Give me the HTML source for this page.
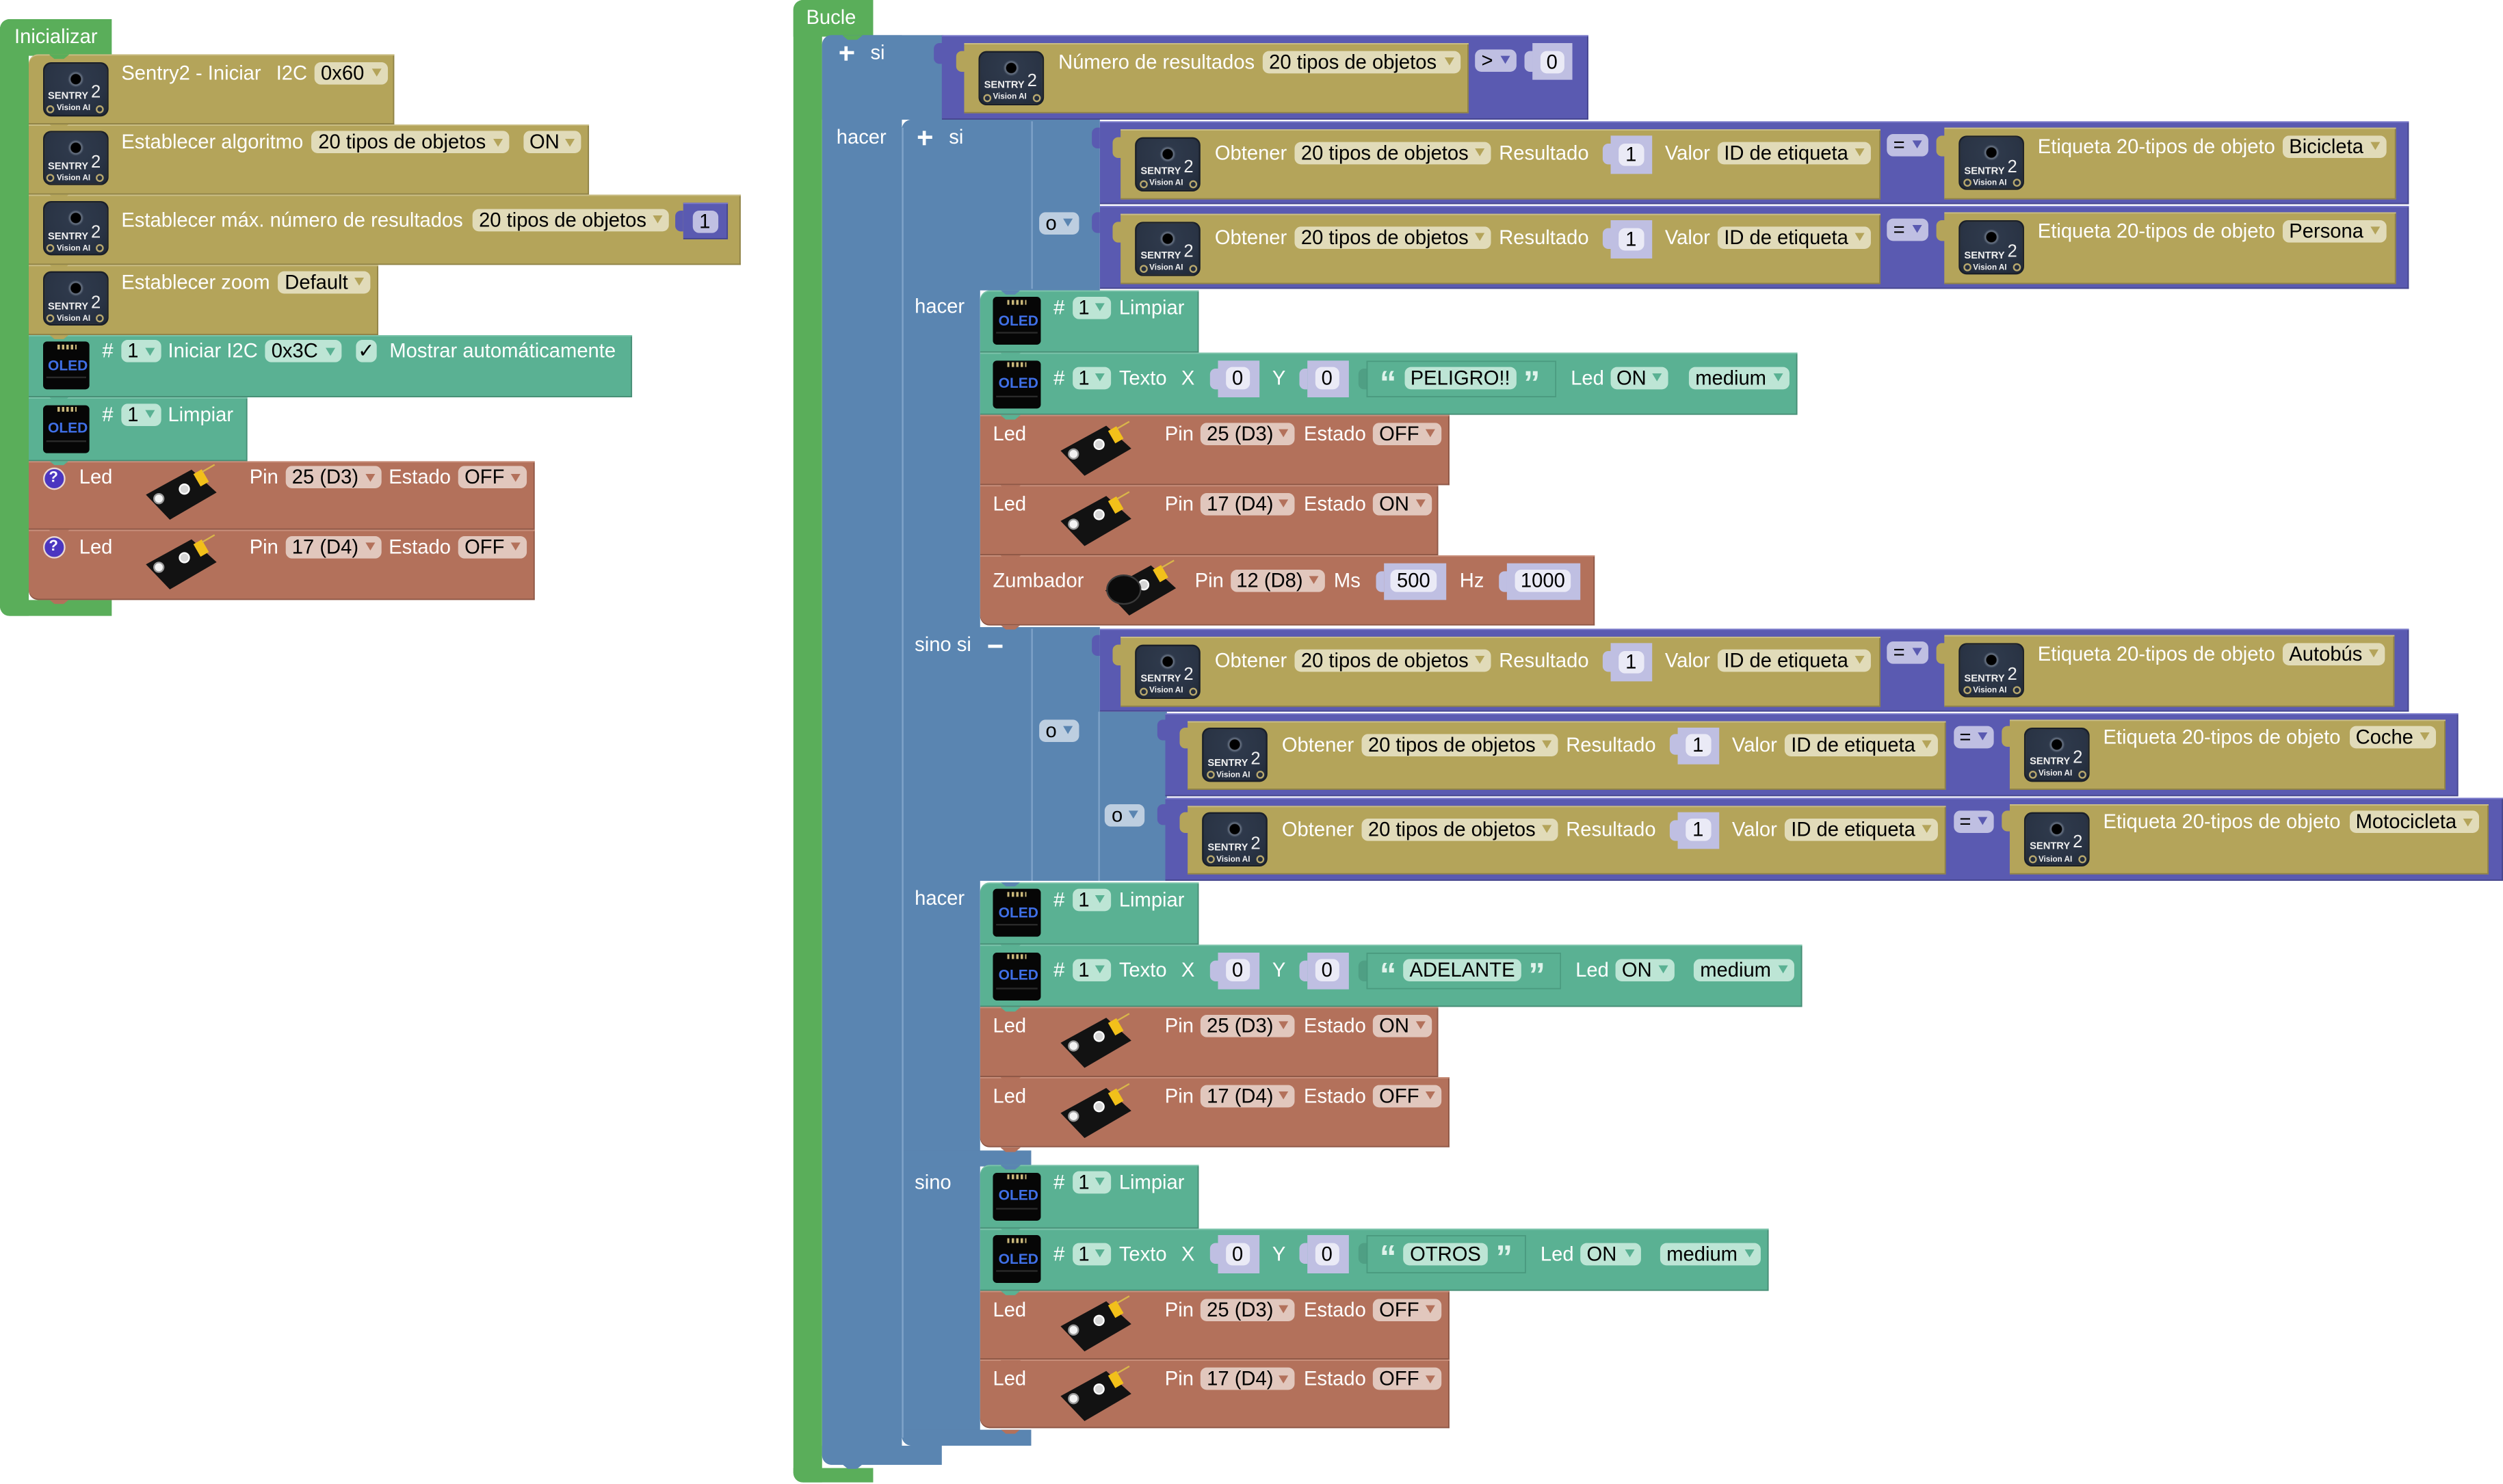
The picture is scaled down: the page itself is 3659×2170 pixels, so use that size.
<!DOCTYPE html>
<html><head><meta charset="utf-8">
<style>
*{box-sizing:border-box;margin:0;padding:0}
html,body{width:3659px;height:2170px;overflow:hidden;background:#fff}
#c{position:absolute;left:0;top:0;width:1568px;height:930px;transform-origin:0 0;transform:scale(2.33355,2.33333);font-family:"Liberation Sans",Arial,sans-serif}
#c div{position:absolute}
.g{background:#5aae5a}
.o{background:#b4a45a;box-shadow:inset 0 .8px 0 #cabe86,inset 0 -.8px 0 #8f8247,inset -.8px 0 0 #8f8247}
.t{background:#5ab193;box-shadow:inset 0 .8px 0 #7cc4ab,inset 0 -.8px 0 #478d75,inset -.8px 0 0 #478d75}
.r{background:#b3715b;box-shadow:inset 0 .8px 0 #c9907c,inset 0 -.8px 0 #8d5746,inset -.8px 0 0 #8d5746}
.b{background:#5a85b1}
.p{background:#5a5ab1;box-shadow:inset 0 .8px 0 #7b7bcb,inset 0 -.8px 0 #46468e,inset -.8px 0 0 #46468e}
.L{color:#fff;font-size:12.5px;line-height:14px;white-space:nowrap}
.F{height:14px;border-radius:4px;font-size:12.5px;line-height:14px;color:#000;padding-left:4px;white-space:nowrap}
.F i{position:absolute;right:4px;top:4.4px;width:0;height:0;border-left:3.3px solid transparent;border-right:3.3px solid transparent;border-top:5.6px solid #000}
.C{text-align:center;padding-left:0}
.fo{background:#e1dbb9}.fo i{border-top-color:#b4a45a}
.ft{background:#bde5d5}.ft i{border-top-color:#5ab193}
.fr{background:#e1c7bd}.fr i{border-top-color:#b3715b}
.fb{background:#bdcee0}.fb i{border-top-color:#5a85b1}
.fp{background:#bfbfe2}.fp i{border-top-color:#5a5ab1}
.n{background:#bfbfe2;height:23.3px}
.ni{background:#eaeaf6}
.tab{width:5.5px;height:13px;border-radius:3.5px 0 0 3.5px;box-shadow:none}
.lt{background:#bfbfe2}
.tb{background:#5ab193;height:23.3px;box-shadow:inset 0 0 0 .8px #4a9a7f}
.tt{background:#4f9f84}
.qu{color:#dff3eb;font:bold 21px/14px "Liberation Sans",sans-serif}
.v{width:13px;height:3px;clip-path:polygon(0 0,100% 0,72% 100%,28% 100%)}
.q{width:14px;height:14px;border-radius:50%;background:#4b36c0;border:1.2px solid #e9d6d0;color:#fff;font:bold 9.5px/11.6px "Liberation Sans",sans-serif;text-align:center}
.sen{width:41px;height:34px;border-radius:5px;border:.8px solid #1a1f29;background:radial-gradient(circle at 50% 30%,#000 0,#000 3px,#6b7687 3.6px,#2e394b 5px,#2a3445 60%,#1f2836 100%);overflow:hidden}
.sen b{position:absolute;color:#f0f0f0;font-family:"Liberation Sans Narrow","Liberation Sans",sans-serif;line-height:1;white-space:nowrap}
.s1{left:2.5px;top:18.5px;font-size:6.3px}
.s2{left:29.5px;top:13.5px;font-size:11px;font-weight:normal}
.s3{left:8px;top:26.8px;font-size:5px}
.sen:before,.sen:after{content:"";position:absolute;top:26px;width:5px;height:5px;border-radius:50%;border:1px solid #b8a86e;box-sizing:border-box}
.sen:before{left:1.5px}.sen:after{right:1.5px}
.ol{width:29.5px;height:30px;background:#060606;border-radius:2.5px}
.ol b{position:absolute;left:3.5px;top:9.5px;font:bold 9px/10px "Liberation Sans Narrow","Liberation Sans",sans-serif;color:#3f6fe6}
.ol:before{content:"";position:absolute;left:9px;top:1.5px;width:12px;height:3px;background:repeating-linear-gradient(90deg,#c9b77a 0 1.4px,transparent 1.4px 2.8px)}
.ol:after{content:"";position:absolute;left:2px;top:22px;width:25.5px;height:1.2px;background:#2a2a2a}
.lm{width:46px;height:35px}
.pc{left:0;top:0;width:46px;height:35px;background:#121212;clip-path:polygon(1.4px 18px,30px 2.3px,45.7px 16.6px,16.4px 33.7px)}
.w1{left:5.5px;top:16.5px;width:7px;height:7px;border-radius:50%;background:#f2f2f2;border:1px solid #9a9a9a}
.w2{left:22px;top:10.5px;width:7px;height:7px;border-radius:50%;background:#d6d6d6;border:1px solid #fff}
.yh{left:33px;top:3px;width:6px;height:9px;background:#f2c01a;transform:rotate(-30deg)}
.pn{left:36px;top:1px;width:9px;height:.8px;background:#d9b64a;transform:rotate(-30deg)}
.cy{left:2px;top:8px;width:22px;height:19px;border-radius:50%;background:#0b0b0b;border:1px solid #3a3a3a}
.ln{background:#7fa3c9;width:.8px}
</style></head><body><div id="c">

<!-- ================= INICIALIZAR ================= -->
<div class="g" style="left:0;top:12px;width:70px;height:22.5px;border-radius:6px 0 0 0"></div>
<div class="g" style="left:0;top:12px;width:18px;height:373.5px;border-radius:6px 0 0 6px"></div>
<div class="g" style="left:0;top:376px;width:70px;height:9.5px;border-radius:0 0 0 6px"></div>
<div class="L" style="left:9px;top:15.5px">Inicializar</div>

<div class="o" style="left:18px;top:34px;width:229px;height:43.5px;border-radius:6px 0 0 0"></div>
<div class="sen" style="left:26.5px;top:38.5px"><b class="s1">SENTRY</b><b class="s2">2</b><b class="s3">Vision AI</b></div>
<div class="L" style="left:76px;top:38.5px">Sentry2 - Iniciar</div>
<div class="L" style="left:173px;top:38.5px">I2C</div>
<div class="F fo" style="left:197px;top:38.7px;width:46px">0x60<i></i></div>

<div class="o" style="left:18px;top:77.5px;width:351px;height:44px"></div>
<div class="sen" style="left:26.5px;top:82.3px"><b class="s1">SENTRY</b><b class="s2">2</b><b class="s3">Vision AI</b></div>
<div class="L" style="left:76px;top:82.2px">Establecer algoritmo</div>
<div class="F fo" style="left:195.4px;top:82.2px;width:123.3px">20 tipos de objetos<i></i></div>
<div class="F fo" style="left:327.7px;top:82.2px;width:36.6px">ON<i></i></div>

<div class="o" style="left:18px;top:121.5px;width:446px;height:44px"></div>
<div class="sen" style="left:26.5px;top:126.3px"><b class="s1">SENTRY</b><b class="s2">2</b><b class="s3">Vision AI</b></div>
<div class="L" style="left:76px;top:130.5px">Establecer máx. número de resultados</div>
<div class="F fo" style="left:296px;top:130.7px;width:123.4px">20 tipos de objetos<i></i></div>
<div class="p tab" style="left:422.5px;top:131.5px"></div>
<div class="p" style="left:427.5px;top:127px;width:28px;height:23.3px"></div>
<div class="F C" style="left:433.5px;top:131.6px;width:16px;background:#bfbfe2">1</div>

<div class="o" style="left:18px;top:165.5px;width:219px;height:44px"></div>
<div class="sen" style="left:26.5px;top:170.3px"><b class="s1">SENTRY</b><b class="s2">2</b><b class="s3">Vision AI</b></div>
<div class="L" style="left:76px;top:169.7px">Establecer zoom</div>
<div class="F fo" style="left:174.4px;top:169.7px;width:57.6px">Default<i></i></div>

<div class="t" style="left:18px;top:209.5px;width:378px;height:39px"></div>
<div class="ol" style="left:26.5px;top:214px"><b>OLED</b></div>
<div class="L" style="left:64px;top:213.4px">#</div>
<div class="F ft" style="left:75.8px;top:213.4px;width:24.9px">1<i></i></div>
<div class="L" style="left:105.2px;top:213.4px">Iniciar I2C</div>
<div class="F ft" style="left:166px;top:213.4px;width:47.5px">0x3C<i></i></div>
<div class="F ft C" style="left:222.5px;top:213.4px;width:13.8px">✓</div>
<div class="L" style="left:244px;top:213.4px">Mostrar automáticamente</div>

<div class="t" style="left:18px;top:248.5px;width:137px;height:40px"></div>
<div class="ol" style="left:26.5px;top:253.5px"><b>OLED</b></div>
<div class="L" style="left:64px;top:253px">#</div>
<div class="F ft" style="left:75.8px;top:253px;width:24.9px">1<i></i></div>
<div class="L" style="left:105.2px;top:253px">Limpiar</div>

<div class="r" style="left:18px;top:288.5px;width:317px;height:43.5px"></div>
<div class="q" style="left:26.5px;top:292.6px">?</div>
<div class="L" style="left:49.6px;top:292.3px">Led</div>
<div class="lm" style="left:90px;top:292px"><div class="pc"></div><div class="w1"></div><div class="w2"></div><div class="yh"></div><div class="pn"></div></div>
<div class="L" style="left:156.3px;top:292.3px">Pin</div>
<div class="F fr" style="left:178.9px;top:292.3px;width:60.1px">25 (D3)<i></i></div>
<div class="L" style="left:243.5px;top:292.3px">Estado</div>
<div class="F fr" style="left:287px;top:292.3px;width:43px">OFF<i></i></div>

<div class="r" style="left:18px;top:332px;width:317px;height:43.5px;border-radius:0 0 0 6px"></div>
<div class="q" style="left:26.5px;top:336.3px">?</div>
<div class="L" style="left:49.6px;top:336px">Led</div>
<div class="lm" style="left:90px;top:335.7px"><div class="pc"></div><div class="w1"></div><div class="w2"></div><div class="yh"></div><div class="pn"></div></div>
<div class="L" style="left:156.3px;top:336px">Pin</div>
<div class="F fr" style="left:178.9px;top:336px;width:60.1px">17 (D4)<i></i></div>
<div class="L" style="left:243.5px;top:336px">Estado</div>
<div class="F fr" style="left:287px;top:336px;width:43px">OFF<i></i></div>

<div class="v" style="left:30.5px;top:34px;background:#5aae5a"></div>
<div class="v" style="left:30.5px;top:77.5px;background:#b4a45a"></div>
<div class="v" style="left:30.5px;top:121.5px;background:#b4a45a"></div>
<div class="v" style="left:30.5px;top:165.5px;background:#b4a45a"></div>
<div class="v" style="left:30.5px;top:209.5px;background:#b4a45a"></div>
<div class="v" style="left:30.5px;top:248.5px;background:#5ab193"></div>
<div class="v" style="left:30.5px;top:288.5px;background:#5ab193"></div>
<div class="v" style="left:30.5px;top:332px;background:#b3715b"></div>
<div class="v" style="left:30.5px;top:375.5px;background:#b3715b"></div>

<!-- ================= BUCLE ================= -->
<div class="g" style="left:497px;top:0;width:50px;height:22.5px;border-radius:6px 0 0 0"></div>
<div class="g" style="left:497px;top:0;width:18px;height:929px;border-radius:6px 0 0 6px"></div>
<div class="g" style="left:497px;top:919.7px;width:50px;height:9.3px;border-radius:0 0 0 6px"></div>
<div class="L" style="left:505px;top:4px">Bucle</div>

<!-- outer if -->
<div class="b" style="left:515px;top:22px;width:76px;height:53px;border-radius:6px 0 0 0"></div>
<div class="b" style="left:515px;top:22px;width:50px;height:895.5px;border-radius:6px 0 0 6px"></div>
<div class="b" style="left:515px;top:906px;width:75px;height:11.5px;border-radius:0 0 0 6px"></div>
<div style="left:525.5px;top:32.2px;width:9px;height:2.2px;background:#fff"></div>
<div style="left:528.9px;top:28.8px;width:2.2px;height:9px;background:#fff"></div>
<div class="L" style="left:545.3px;top:26.3px">si</div>
<div class="L" style="left:524px;top:79px">hacer</div>

<!-- outer compare -->
<div class="p tab" style="left:585px;top:27px"></div>
<div class="p" style="left:590px;top:22px;width:404.5px;height:52.6px"></div>
<div class="o tab" style="left:599px;top:31.5px"></div>
<div class="o" style="left:604px;top:27px;width:316px;height:44px"></div>
<div class="sen" style="left:613px;top:31.5px"><b class="s1">SENTRY</b><b class="s2">2</b><b class="s3">Vision AI</b></div>
<div class="L" style="left:663px;top:31.6px">Número de resultados</div>
<div class="F fo" style="left:791px;top:31.6px;width:123.5px">20 tipos de objetos<i></i></div>
<div class="F fp" style="left:924px;top:31px;width:26px">&gt;<i></i></div>
<div class="lt tab" style="left:955px;top:31.5px"></div>
<div class="n" style="left:960px;top:27px;width:25px"></div>
<div class="F C ni" style="left:964.5px;top:31.6px;width:15.5px">0</div>

<!-- inner if -->
<div class="b" style="left:565px;top:75px;width:124px;height:107px;border-radius:6px 0 0 0"></div>
<div class="b" style="left:565px;top:75px;width:49px;height:831px;border-radius:6px 0 0 6px"></div>
<div class="b" style="left:565px;top:393.4px;width:124px;height:159px"></div>
<div class="b" style="left:688px;top:446px;width:42.5px;height:106.4px"></div>
<div class="b" style="left:565px;top:720.5px;width:81px;height:10px"></div>
<div class="b" style="left:565px;top:895.5px;width:81px;height:10.5px;border-radius:0 0 0 6px"></div>
<div class="ln" style="left:565px;top:80px;height:821px"></div>
<div class="ln" style="left:646px;top:76px;height:105px"></div>
<div class="ln" style="left:646px;top:394px;height:158px"></div>
<div class="ln" style="left:688px;top:446px;height:106px"></div>
<div style="left:574.5px;top:84.9px;width:9px;height:2.2px;background:#fff"></div>
<div style="left:577.9px;top:81.5px;width:2.2px;height:9px;background:#fff"></div>
<div class="L" style="left:594.5px;top:79px">si</div>
<div class="L" style="left:573px;top:185.2px">hacer</div>
<div class="L" style="left:573px;top:397.3px">sino si</div>
<div style="left:619.4px;top:403.6px;width:8.6px;height:2px;background:#fff"></div>
<div class="L" style="left:573px;top:556px">hacer</div>
<div class="L" style="left:573px;top:734px">sino</div>

<div class="F fb" style="left:651px;top:133px;width:24.5px">o<i></i></div>
<div class="F fb" style="left:651px;top:451px;width:24.5px">o<i></i></div>
<div class="F fb" style="left:692.4px;top:504px;width:24.6px">o<i></i></div>

<!-- Row A -->
<div class="p tab" style="left:683.5px;top:80px"></div>
<div class="p" style="left:688.5px;top:76px;width:820.5px;height:52px"></div>
<div class="o tab" style="left:697px;top:85.5px"></div>
<div class="o" style="left:702px;top:81px;width:476px;height:43.5px"></div>
<div class="sen" style="left:711px;top:85.5px"><b class="s1">SENTRY</b><b class="s2">2</b><b class="s3">Vision AI</b></div>
<div class="L" style="left:761px;top:89px">Obtener</div>
<div class="F fo" style="left:811px;top:89px;width:123px">20 tipos de objetos<i></i></div>
<div class="L" style="left:939px;top:89px">Resultado</div>
<div class="lt tab" style="left:1004px;top:89.8px"></div>
<div class="n" style="left:1009px;top:85.4px;width:26px"></div>
<div class="F C ni" style="left:1014px;top:89.5px;width:15.5px">1</div>
<div class="L" style="left:1043px;top:89px">Valor</div>
<div class="F fo" style="left:1076px;top:89px;width:96px">ID de etiqueta<i></i></div>
<div class="F fp" style="left:1182px;top:84px;width:26px">=<i></i></div>
<div class="o tab" style="left:1213px;top:84.5px"></div>
<div class="o" style="left:1218px;top:80px;width:283px;height:44.6px"></div>
<div class="sen" style="left:1227px;top:85px"><b class="s1">SENTRY</b><b class="s2">2</b><b class="s3">Vision AI</b></div>
<div class="L" style="left:1276.5px;top:84.5px">Etiqueta 20-tipos de objeto</div>
<div class="F fo" style="left:1430px;top:84.5px;width:64.5px">Bicicleta<i></i></div>

<!-- Row B -->
<div class="p tab" style="left:683.5px;top:133px"></div>
<div class="p" style="left:688.5px;top:129px;width:820.5px;height:52.4px"></div>
<div class="o tab" style="left:697px;top:138.5px"></div>
<div class="o" style="left:702px;top:134px;width:476px;height:43.5px"></div>
<div class="sen" style="left:711px;top:138.5px"><b class="s1">SENTRY</b><b class="s2">2</b><b class="s3">Vision AI</b></div>
<div class="L" style="left:761px;top:142px">Obtener</div>
<div class="F fo" style="left:811px;top:142px;width:123px">20 tipos de objetos<i></i></div>
<div class="L" style="left:939px;top:142px">Resultado</div>
<div class="lt tab" style="left:1004px;top:142.8px"></div>
<div class="n" style="left:1009px;top:138.4px;width:26px"></div>
<div class="F C ni" style="left:1014px;top:142.5px;width:15.5px">1</div>
<div class="L" style="left:1043px;top:142px">Valor</div>
<div class="F fo" style="left:1076px;top:142px;width:96px">ID de etiqueta<i></i></div>
<div class="F fp" style="left:1182px;top:137px;width:26px">=<i></i></div>
<div class="o tab" style="left:1213px;top:137.5px"></div>
<div class="o" style="left:1218px;top:133px;width:283px;height:44.6px"></div>
<div class="sen" style="left:1227px;top:138px"><b class="s1">SENTRY</b><b class="s2">2</b><b class="s3">Vision AI</b></div>
<div class="L" style="left:1276.5px;top:137.5px">Etiqueta 20-tipos de objeto</div>
<div class="F fo" style="left:1430px;top:137.5px;width:64.5px">Persona<i></i></div>

<!-- Row C -->
<div class="p tab" style="left:683.5px;top:398px"></div>
<div class="p" style="left:688.5px;top:394px;width:820.5px;height:52px"></div>
<div class="o tab" style="left:697px;top:403.5px"></div>
<div class="o" style="left:702px;top:399px;width:476px;height:43.5px"></div>
<div class="sen" style="left:711px;top:403.5px"><b class="s1">SENTRY</b><b class="s2">2</b><b class="s3">Vision AI</b></div>
<div class="L" style="left:761px;top:407px">Obtener</div>
<div class="F fo" style="left:811px;top:407px;width:123px">20 tipos de objetos<i></i></div>
<div class="L" style="left:939px;top:407px">Resultado</div>
<div class="lt tab" style="left:1004px;top:407.8px"></div>
<div class="n" style="left:1009px;top:403.4px;width:26px"></div>
<div class="F C ni" style="left:1014px;top:407.5px;width:15.5px">1</div>
<div class="L" style="left:1043px;top:407px">Valor</div>
<div class="F fo" style="left:1076px;top:407px;width:96px">ID de etiqueta<i></i></div>
<div class="F fp" style="left:1182px;top:402px;width:26px">=<i></i></div>
<div class="o tab" style="left:1213px;top:402.5px"></div>
<div class="o" style="left:1218px;top:398px;width:282px;height:44.6px"></div>
<div class="sen" style="left:1227px;top:403px"><b class="s1">SENTRY</b><b class="s2">2</b><b class="s3">Vision AI</b></div>
<div class="L" style="left:1276.5px;top:402.5px">Etiqueta 20-tipos de objeto</div>
<div class="F fo" style="left:1430px;top:402.5px;width:64px">Autobús<i></i></div>

<!-- Row D -->
<div class="p tab" style="left:725px;top:451px"></div>
<div class="p" style="left:730px;top:447px;width:810px;height:52.3px"></div>
<div class="o tab" style="left:739px;top:456px"></div>
<div class="o" style="left:744px;top:451.5px;width:475px;height:43.7px"></div>
<div class="sen" style="left:753px;top:456px"><b class="s1">SENTRY</b><b class="s2">2</b><b class="s3">Vision AI</b></div>
<div class="L" style="left:803px;top:459.5px">Obtener</div>
<div class="F fo" style="left:853px;top:459.5px;width:123px">20 tipos de objetos<i></i></div>
<div class="L" style="left:981px;top:459.5px">Resultado</div>
<div class="lt tab" style="left:1046px;top:460.3px"></div>
<div class="n" style="left:1051px;top:455.9px;width:26px"></div>
<div class="F C ni" style="left:1056px;top:460px;width:15.5px">1</div>
<div class="L" style="left:1085px;top:459.5px">Valor</div>
<div class="F fo" style="left:1118px;top:459.5px;width:96px">ID de etiqueta<i></i></div>
<div class="F fp" style="left:1223.5px;top:454.5px;width:25.5px">=<i></i></div>
<div class="o tab" style="left:1254px;top:455px"></div>
<div class="o" style="left:1259px;top:450.5px;width:272.6px;height:44.6px"></div>
<div class="sen" style="left:1268px;top:455.5px"><b class="s1">SENTRY</b><b class="s2">2</b><b class="s3">Vision AI</b></div>
<div class="L" style="left:1317.5px;top:455px">Etiqueta 20-tipos de objeto</div>
<div class="F fo" style="left:1471.7px;top:455px;width:54.3px">Coche<i></i></div>

<!-- Row E -->
<div class="p tab" style="left:725px;top:504px"></div>
<div class="p" style="left:730px;top:500px;width:838px;height:52px"></div>
<div class="o tab" style="left:739px;top:509.3px"></div>
<div class="o" style="left:744px;top:504.8px;width:475px;height:43.5px"></div>
<div class="sen" style="left:753px;top:509.3px"><b class="s1">SENTRY</b><b class="s2">2</b><b class="s3">Vision AI</b></div>
<div class="L" style="left:803px;top:512.8px">Obtener</div>
<div class="F fo" style="left:853px;top:512.8px;width:123px">20 tipos de objetos<i></i></div>
<div class="L" style="left:981px;top:512.8px">Resultado</div>
<div class="lt tab" style="left:1046px;top:513.6px"></div>
<div class="n" style="left:1051px;top:509.2px;width:26px"></div>
<div class="F C ni" style="left:1056px;top:513.3px;width:15.5px">1</div>
<div class="L" style="left:1085px;top:512.8px">Valor</div>
<div class="F fo" style="left:1118px;top:512.8px;width:96px">ID de etiqueta<i></i></div>
<div class="F fp" style="left:1223.5px;top:507.8px;width:25.5px">=<i></i></div>
<div class="o tab" style="left:1254px;top:508.3px"></div>
<div class="o" style="left:1259px;top:503.8px;width:300px;height:44.6px"></div>
<div class="sen" style="left:1268px;top:508.8px"><b class="s1">SENTRY</b><b class="s2">2</b><b class="s3">Vision AI</b></div>
<div class="L" style="left:1317.5px;top:508.3px">Etiqueta 20-tipos de objeto</div>
<div class="F fo" style="left:1471.7px;top:508.3px;width:81.3px">Motocicleta<i></i></div>

<!-- ===== hacer 1 ===== -->
<div class="t" style="left:614px;top:181.6px;width:137px;height:39.4px;border-radius:6px 0 0 0"></div>
<div class="ol" style="left:622px;top:186px"><b>OLED</b></div>
<div class="L" style="left:660px;top:185.6px">#</div>
<div class="F ft" style="left:671.5px;top:185.6px;width:24.5px">1<i></i></div>
<div class="L" style="left:701px;top:185.6px">Limpiar</div>

<div class="t" style="left:614px;top:221px;width:512px;height:39px"></div>
<div class="ol" style="left:622px;top:225.5px"><b>OLED</b></div>
<div class="L" style="left:660px;top:230px">#</div>
<div class="F ft" style="left:671.5px;top:230px;width:24.5px">1<i></i></div>
<div class="L" style="left:701px;top:230px">Texto</div>
<div class="L" style="left:740px;top:230px">X</div>
<div class="lt tab" style="left:757.5px;top:230.5px"></div>
<div class="n" style="left:762.5px;top:225.7px;width:26px"></div>
<div class="F C ni" style="left:767.5px;top:230px;width:15.5px">0</div>
<div class="L" style="left:797px;top:230px">Y</div>
<div class="lt tab" style="left:813.5px;top:230.5px"></div>
<div class="n" style="left:818.5px;top:225.7px;width:26px"></div>
<div class="F C ni" style="left:823.5px;top:230px;width:15.5px">0</div>
<div class="tt tab" style="left:851px;top:230.5px"></div>
<div class="tb" style="left:856px;top:225.7px;width:119px"></div>
<div class="qu" style="left:864.3px;top:233.7px">“</div>
<div class="F ft C" style="left:879.6px;top:230px;width:70.4px">PELIGRO!!</div>
<div class="qu" style="left:954.3px;top:233.7px">”</div>
<div class="L" style="left:984px;top:230px">Led</div>
<div class="F ft" style="left:1008.6px;top:230px;width:36.4px">ON<i></i></div>
<div class="F ft" style="left:1058px;top:230px;width:62.5px">medium<i></i></div>

<div class="r" style="left:614px;top:260px;width:294px;height:44px"></div>
<div class="L" style="left:622px;top:265px">Led</div>
<div class="lm" style="left:663px;top:264.5px"><div class="pc"></div><div class="w1"></div><div class="w2"></div><div class="yh"></div><div class="pn"></div></div>
<div class="L" style="left:729.7px;top:265px">Pin</div>
<div class="F fr" style="left:752px;top:265px;width:59px">25 (D3)<i></i></div>
<div class="L" style="left:816.8px;top:265px">Estado</div>
<div class="F fr" style="left:860px;top:265px;width:43px">OFF<i></i></div>

<div class="r" style="left:614px;top:304px;width:287px;height:44px"></div>
<div class="L" style="left:622px;top:309px">Led</div>
<div class="lm" style="left:663px;top:308.5px"><div class="pc"></div><div class="w1"></div><div class="w2"></div><div class="yh"></div><div class="pn"></div></div>
<div class="L" style="left:729.7px;top:309px">Pin</div>
<div class="F fr" style="left:752px;top:309px;width:59px">17 (D4)<i></i></div>
<div class="L" style="left:816.8px;top:309px">Estado</div>
<div class="F fr" style="left:860px;top:309px;width:37px">ON<i></i></div>

<div class="r" style="left:614px;top:348px;width:385px;height:43.5px;border-radius:0 0 0 6px"></div>
<div class="L" style="left:622px;top:357px">Zumbador</div>
<div class="lm" style="left:691px;top:352px"><div class="pc"></div><div class="w2"></div><div class="yh"></div><div class="pn"></div><div class="cy"></div></div>
<div class="L" style="left:748.5px;top:357px">Pin</div>
<div class="F fr" style="left:770.5px;top:357px;width:59.5px">12 (D8)<i></i></div>
<div class="L" style="left:835.6px;top:357px">Ms</div>
<div class="lt tab" style="left:861.5px;top:357.5px"></div>
<div class="n" style="left:866.5px;top:352.6px;width:39px"></div>
<div class="F C ni" style="left:871px;top:357.2px;width:29px">500</div>
<div class="L" style="left:914.4px;top:357px">Hz</div>
<div class="lt tab" style="left:939px;top:357.5px"></div>
<div class="n" style="left:944px;top:352.6px;width:46px"></div>
<div class="F C ni" style="left:949px;top:357.2px;width:35px">1000</div>

<!-- ===== hacer 2 ===== -->
<div class="t" style="left:614px;top:552.5px;width:137px;height:39.5px;border-radius:6px 0 0 0"></div>
<div class="ol" style="left:622px;top:557px"><b>OLED</b></div>
<div class="L" style="left:660px;top:556.5px">#</div>
<div class="F ft" style="left:671.5px;top:556.5px;width:24.5px">1<i></i></div>
<div class="L" style="left:701px;top:556.5px">Limpiar</div>

<div class="t" style="left:614px;top:592px;width:515px;height:39px"></div>
<div class="ol" style="left:622px;top:596.5px"><b>OLED</b></div>
<div class="L" style="left:660px;top:601px">#</div>
<div class="F ft" style="left:671.5px;top:601px;width:24.5px">1<i></i></div>
<div class="L" style="left:701px;top:601px">Texto</div>
<div class="L" style="left:740px;top:601px">X</div>
<div class="lt tab" style="left:757.5px;top:601.5px"></div>
<div class="n" style="left:762.5px;top:596.7px;width:26px"></div>
<div class="F C ni" style="left:767.5px;top:601px;width:15.5px">0</div>
<div class="L" style="left:797px;top:601px">Y</div>
<div class="lt tab" style="left:813.5px;top:601.5px"></div>
<div class="n" style="left:818.5px;top:596.7px;width:26px"></div>
<div class="F C ni" style="left:823.5px;top:601px;width:15.5px">0</div>
<div class="tt tab" style="left:851px;top:601.5px"></div>
<div class="tb" style="left:856px;top:596.7px;width:122px"></div>
<div class="qu" style="left:864.3px;top:604.7px">“</div>
<div class="F ft C" style="left:879px;top:601px;width:74px">ADELANTE</div>
<div class="qu" style="left:957.5px;top:604.7px">”</div>
<div class="L" style="left:987px;top:601px">Led</div>
<div class="F ft" style="left:1012px;top:601px;width:37px">ON<i></i></div>
<div class="F ft" style="left:1061px;top:601px;width:63px">medium<i></i></div>

<div class="r" style="left:614px;top:631px;width:287px;height:44px"></div>
<div class="L" style="left:622px;top:636px">Led</div>
<div class="lm" style="left:663px;top:635.5px"><div class="pc"></div><div class="w1"></div><div class="w2"></div><div class="yh"></div><div class="pn"></div></div>
<div class="L" style="left:729.7px;top:636px">Pin</div>
<div class="F fr" style="left:752px;top:636px;width:59px">25 (D3)<i></i></div>
<div class="L" style="left:816.8px;top:636px">Estado</div>
<div class="F fr" style="left:860px;top:636px;width:37px">ON<i></i></div>

<div class="r" style="left:614px;top:675px;width:294px;height:44px;border-radius:0 0 0 6px"></div>
<div class="L" style="left:622px;top:680px">Led</div>
<div class="lm" style="left:663px;top:679.5px"><div class="pc"></div><div class="w1"></div><div class="w2"></div><div class="yh"></div><div class="pn"></div></div>
<div class="L" style="left:729.7px;top:680px">Pin</div>
<div class="F fr" style="left:752px;top:680px;width:59px">17 (D4)<i></i></div>
<div class="L" style="left:816.8px;top:680px">Estado</div>
<div class="F fr" style="left:860px;top:680px;width:43px">OFF<i></i></div>

<!-- ===== sino ===== -->
<div class="t" style="left:614px;top:730px;width:137px;height:39.7px;border-radius:6px 0 0 0"></div>
<div class="ol" style="left:622px;top:734.5px"><b>OLED</b></div>
<div class="L" style="left:660px;top:734px">#</div>
<div class="F ft" style="left:671.5px;top:734px;width:24.5px">1<i></i></div>
<div class="L" style="left:701px;top:734px">Limpiar</div>

<div class="t" style="left:614px;top:769.7px;width:494px;height:39px"></div>
<div class="ol" style="left:622px;top:774.2px"><b>OLED</b></div>
<div class="L" style="left:660px;top:778.7px">#</div>
<div class="F ft" style="left:671.5px;top:778.7px;width:24.5px">1<i></i></div>
<div class="L" style="left:701px;top:778.7px">Texto</div>
<div class="L" style="left:740px;top:778.7px">X</div>
<div class="lt tab" style="left:757.5px;top:779.2px"></div>
<div class="n" style="left:762.5px;top:774.4px;width:26px"></div>
<div class="F C ni" style="left:767.5px;top:778.7px;width:15.5px">0</div>
<div class="L" style="left:797px;top:778.7px">Y</div>
<div class="lt tab" style="left:813.5px;top:779.2px"></div>
<div class="n" style="left:818.5px;top:774.4px;width:26px"></div>
<div class="F C ni" style="left:823.5px;top:778.7px;width:15.5px">0</div>
<div class="tt tab" style="left:851px;top:779.2px"></div>
<div class="tb" style="left:856px;top:774.4px;width:100px"></div>
<div class="qu" style="left:864.3px;top:782.4px">“</div>
<div class="F ft C" style="left:879px;top:778.7px;width:53px">OTROS</div>
<div class="qu" style="left:937px;top:782.4px">”</div>
<div class="L" style="left:965px;top:778.7px">Led</div>
<div class="F ft" style="left:990px;top:778.7px;width:38px">ON<i></i></div>
<div class="F ft" style="left:1040px;top:778.7px;width:62.5px">medium<i></i></div>

<div class="r" style="left:614px;top:808.7px;width:294px;height:43.7px"></div>
<div class="L" style="left:622px;top:813.7px">Led</div>
<div class="lm" style="left:663px;top:813.2px"><div class="pc"></div><div class="w1"></div><div class="w2"></div><div class="yh"></div><div class="pn"></div></div>
<div class="L" style="left:729.7px;top:813.7px">Pin</div>
<div class="F fr" style="left:752px;top:813.7px;width:59px">25 (D3)<i></i></div>
<div class="L" style="left:816.8px;top:813.7px">Estado</div>
<div class="F fr" style="left:860px;top:813.7px;width:43px">OFF<i></i></div>

<div class="r" style="left:614px;top:852.4px;width:294px;height:43.1px;border-radius:0 0 0 6px"></div>
<div class="L" style="left:622px;top:857.4px">Led</div>
<div class="lm" style="left:663px;top:856.9px"><div class="pc"></div><div class="w1"></div><div class="w2"></div><div class="yh"></div><div class="pn"></div></div>
<div class="L" style="left:729.7px;top:857.4px">Pin</div>
<div class="F fr" style="left:752px;top:857.4px;width:59px">17 (D4)<i></i></div>
<div class="L" style="left:816.8px;top:857.4px">Estado</div>
<div class="F fr" style="left:860px;top:857.4px;width:43px">OFF<i></i></div>

<!-- notches Bucle -->
<div class="v" style="left:527.5px;top:22px;background:#5aae5a"></div>
<div class="v" style="left:626.5px;top:181.6px;background:#5a85b1"></div>
<div class="v" style="left:626.5px;top:221px;background:#5ab193"></div>
<div class="v" style="left:626.5px;top:260px;background:#5ab193"></div>
<div class="v" style="left:626.5px;top:304px;background:#b3715b"></div>
<div class="v" style="left:626.5px;top:348px;background:#b3715b"></div>
<div class="v" style="left:626.5px;top:391.5px;background:#b3715b"></div>
<div class="v" style="left:626.5px;top:552.5px;background:#5a85b1"></div>
<div class="v" style="left:626.5px;top:592px;background:#5ab193"></div>
<div class="v" style="left:626.5px;top:631px;background:#5ab193"></div>
<div class="v" style="left:626.5px;top:675px;background:#b3715b"></div>
<div class="v" style="left:626.5px;top:719px;background:#b3715b"></div>
<div class="v" style="left:626.5px;top:730px;background:#5a85b1"></div>
<div class="v" style="left:626.5px;top:769.7px;background:#5ab193"></div>
<div class="v" style="left:626.5px;top:808.7px;background:#5ab193"></div>
<div class="v" style="left:626.5px;top:852.4px;background:#b3715b"></div>
<div class="v" style="left:626.5px;top:895.5px;background:#b3715b"></div>
<div class="v" style="left:527.5px;top:917.5px;background:#5a85b1"></div>

</div></body></html>
